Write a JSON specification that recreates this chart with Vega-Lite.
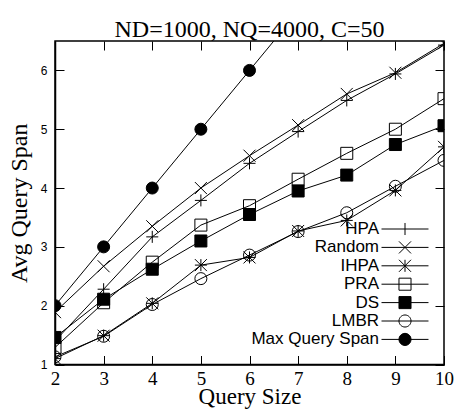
{
  "$schema": "https://vega.github.io/schema/vega-lite/v6.json",
  "width": 389,
  "height": 323.5,
  "autosize": {"type": "none"},
  "padding": {"left": 55, "top": 41, "right": 17, "bottom": 46.5},
  "background": "white",
  "title": {"text": "ND=1000, NQ=4000, C=50", "font": "Liberation Serif", "fontSize": 24, "fontWeight": "normal", "color": "black", "baseline": "alphabetic", "offset": -14, "dy": 6},
  "data": {"values": [
    {"method": "HPA", "size": 2, "span": 1.40},
    {"method": "HPA", "size": 3, "span": 2.28},
    {"method": "HPA", "size": 4, "span": 3.17},
    {"method": "HPA", "size": 5, "span": 3.79},
    {"method": "HPA", "size": 6, "span": 4.42},
    {"method": "HPA", "size": 7, "span": 4.96},
    {"method": "HPA", "size": 8, "span": 5.49},
    {"method": "HPA", "size": 9, "span": 5.94},
    {"method": "HPA", "size": 10, "span": 6.43},
    {"method": "Random", "size": 2, "span": 1.89},
    {"method": "Random", "size": 3, "span": 2.67},
    {"method": "Random", "size": 4, "span": 3.35},
    {"method": "Random", "size": 5, "span": 4.0},
    {"method": "Random", "size": 6, "span": 4.55},
    {"method": "Random", "size": 7, "span": 5.07},
    {"method": "Random", "size": 8, "span": 5.60},
    {"method": "Random", "size": 9, "span": 5.96},
    {"method": "Random", "size": 10, "span": 6.46},
    {"method": "IHPA", "size": 2, "span": 1.10},
    {"method": "IHPA", "size": 3, "span": 1.49},
    {"method": "IHPA", "size": 4, "span": 2.04},
    {"method": "IHPA", "size": 5, "span": 2.69},
    {"method": "IHPA", "size": 6, "span": 2.82},
    {"method": "IHPA", "size": 7, "span": 3.27},
    {"method": "IHPA", "size": 8, "span": 3.45},
    {"method": "IHPA", "size": 9, "span": 3.96},
    {"method": "IHPA", "size": 10, "span": 4.70},
    {"method": "PRA", "size": 2, "span": 1.29},
    {"method": "PRA", "size": 3, "span": 2.05},
    {"method": "PRA", "size": 4, "span": 2.74},
    {"method": "PRA", "size": 5, "span": 3.37},
    {"method": "PRA", "size": 6, "span": 3.70},
    {"method": "PRA", "size": 7, "span": 4.15},
    {"method": "PRA", "size": 8, "span": 4.59},
    {"method": "PRA", "size": 9, "span": 5.00},
    {"method": "PRA", "size": 10, "span": 5.52},
    {"method": "DS", "size": 2, "span": 1.46},
    {"method": "DS", "size": 3, "span": 2.11},
    {"method": "DS", "size": 4, "span": 2.62},
    {"method": "DS", "size": 5, "span": 3.10},
    {"method": "DS", "size": 6, "span": 3.55},
    {"method": "DS", "size": 7, "span": 3.95},
    {"method": "DS", "size": 8, "span": 4.22},
    {"method": "DS", "size": 9, "span": 4.74},
    {"method": "DS", "size": 10, "span": 5.06},
    {"method": "LMBR", "size": 2, "span": 1.13},
    {"method": "LMBR", "size": 3, "span": 1.48},
    {"method": "LMBR", "size": 4, "span": 2.02},
    {"method": "LMBR", "size": 5, "span": 2.46},
    {"method": "LMBR", "size": 6, "span": 2.86},
    {"method": "LMBR", "size": 7, "span": 3.26},
    {"method": "LMBR", "size": 8, "span": 3.58},
    {"method": "LMBR", "size": 9, "span": 4.03},
    {"method": "LMBR", "size": 10, "span": 4.47},
    {"method": "Max Query Span", "size": 2, "span": 2},
    {"method": "Max Query Span", "size": 3, "span": 3},
    {"method": "Max Query Span", "size": 4, "span": 4},
    {"method": "Max Query Span", "size": 5, "span": 5},
    {"method": "Max Query Span", "size": 6, "span": 6},
    {"method": "Max Query Span", "size": 7, "span": 7}
  ]},
  "layer": [
    {
      "mark": {"type": "line", "color": "black", "strokeWidth": 1, "clip": true},
      "encoding": {
        "x": {"field": "size", "type": "quantitative", "scale": {"domain": [2, 10], "nice": false, "zero": false},
          "axis": {"orient": "bottom", "values": [2, 3, 4, 5, 6, 7, 8, 9, 10], "tickSize": -9, "tickColor": "black", "tickWidth": 1, "domainColor": "black", "domainWidth": 1.5, "grid": false,
            "labelFont": "Liberation Serif", "labelFontSize": 19, "labelColor": "black", "labelPadding": 14, "labelFlush": false, "labelOverlap": false,
            "title": "Query Size", "titleFont": "Liberation Serif", "titleFontSize": 23, "titleFontWeight": "normal", "titleColor": "black", "titleBaseline": "alphabetic", "titleY": 38.5, "titleX": 194.5}},
        "y": {"field": "span", "type": "quantitative", "scale": {"domain": [1, 6.5], "nice": false, "zero": false},
          "axis": {"orient": "left", "values": [1, 2, 3, 4, 5, 6], "tickSize": -9, "tickColor": "black", "tickWidth": 1, "domainColor": "black", "domainWidth": 1.5, "grid": false,
            "labelFont": "Liberation Sans", "labelFontSize": 12, "labelColor": "black", "labelPadding": 17, "labelFlush": false, "labelOverlap": false,
            "title": "Avg Query Span", "titleFont": "Liberation Serif", "titleFontSize": 24, "titleFontWeight": "normal", "titleColor": "black", "titleBaseline": "alphabetic", "titleX": -29, "titleY": 161.75, "titleAngle": -90}},
        "detail": {"field": "method", "type": "nominal"}
      }
    },
    {
      "mark": {"type": "point", "stroke": "black", "strokeWidth": 1, "size": 144, "opacity": 1, "clip": true},
      "encoding": {
        "x": {"field": "size", "type": "quantitative",
          "axis": {"orient": "top", "values": [2, 3, 4, 5, 6, 7, 8, 9, 10], "tickSize": -9, "tickColor": "black", "tickWidth": 1, "domain": false, "grid": false, "labels": false, "title": null}},
        "y": {"field": "span", "type": "quantitative",
          "axis": {"orient": "right", "values": [1, 2, 3, 4, 5, 6], "tickSize": -9, "tickColor": "black", "tickWidth": 1, "domain": false, "grid": false, "labels": false, "title": null}},
        "shape": {"field": "method", "type": "nominal",
          "scale": {"domain": ["HPA", "Random", "IHPA", "PRA", "DS", "LMBR", "Max Query Span"],
            "range": ["M-1,0L1,0M0,-1L0,1", "M-1,-1L1,1M-1,1L1,-1", "M-1,0L1,0M0,-1L0,1M-1,-1L1,1M-1,1L1,-1", "square", "square", "circle", "circle"]},
          "legend": null},
        "fill": {"field": "method", "type": "nominal",
          "scale": {"domain": ["HPA", "Random", "IHPA", "PRA", "DS", "LMBR", "Max Query Span"],
            "range": ["transparent", "transparent", "transparent", "transparent", "black", "transparent", "black"]},
          "legend": null}
      }
    },
    {
      "transform": [{"filter": "false"}],
      "mark": {"type": "point", "filled": false, "color": "black", "stroke": "black", "strokeWidth": 1, "size": 324, "opacity": 1},
      "encoding": {
        "x": {"field": "size", "type": "quantitative", "axis": null},
        "y": {"field": "span", "type": "quantitative", "axis": null},
        "shape": {"field": "method", "type": "nominal",
          "scale": {"domain": ["HPA", "Random", "IHPA", "PRA", "DS", "LMBR", "Max Query Span"],
            "range": [
              "M-2.61,0L2.61,0M0,-0.67L0,0.67",
              "M-2.61,0L2.61,0M-0.67,-0.67L0.67,0.67M-0.67,0.67L0.67,-0.67",
              "M-2.61,0L2.61,0M0,-0.67L0,0.67M-0.67,-0.67L0.67,0.67M-0.67,0.67L0.67,-0.67",
              "M-2.61,0L2.61,0M-0.67,-0.67L0.67,-0.67L0.67,0.67L-0.67,0.67Z",
              "M-2.61,0L2.61,0M-0.67,-0.67L0.67,-0.67L0.67,0.67L-0.67,0.67Z",
              "M-2.61,0L2.61,0M0.67,0A0.67,0.67,0,1,1,-0.67,0A0.67,0.67,0,1,1,0.67,0Z",
              "M-2.61,0L2.61,0M0.67,0A0.67,0.67,0,1,1,-0.67,0A0.67,0.67,0,1,1,0.67,0Z"
            ]},
          "legend": {"orient": "none", "legendX": 340.5, "legendY": 178.5, "title": null, "padding": 0,
            "labelFont": "Liberation Sans", "labelFontSize": 17, "labelColor": "black", "labelAlign": "right", "labelBaseline": "middle", "labelOffset": -35.5, "labelLimit": 300,
            "symbolSize": 324, "symbolStrokeWidth": 1, "symbolStrokeColor": "black", "symbolFillColor": "transparent", "symbolOffset": 0, "rowPadding": 0.4}}
      }
    },
    {
      "transform": [{"filter": "false"}],
      "mark": {"type": "point", "filled": true, "color": "black", "strokeWidth": 1, "size": 324, "opacity": 1},
      "encoding": {
        "x": {"field": "size", "type": "quantitative", "axis": null},
        "y": {"field": "span", "type": "quantitative", "axis": null},
        "shape": {"field": "method", "type": "nominal",
          "scale": {"domain": ["HPA", "Random", "IHPA", "PRA", "DS", "LMBR", "Max Query Span"],
            "range": [
              "M0,0",
              "M0,0",
              "M0,0",
              "M0,0",
              "M-0.67,-0.67L0.67,-0.67L0.67,0.67L-0.67,0.67Z",
              "M0,0",
              "M0.67,0A0.67,0.67,0,1,1,-0.67,0A0.67,0.67,0,1,1,0.67,0Z"
            ]},
          "legend": {"orient": "none", "legendX": 340.5, "legendY": 178.5, "title": null, "padding": 0,
            "labelFont": "Liberation Sans", "labelFontSize": 17, "labelColor": "black", "labelExpr": "''", "labelAlign": "right", "labelBaseline": "middle", "labelOffset": -35.5, "labelLimit": 300,
            "symbolSize": 324, "symbolStrokeWidth": 1, "symbolStrokeColor": "transparent", "symbolFillColor": "black", "symbolOffset": 0, "rowPadding": 0.4}}
      }
    }
  ],
  "resolve": {"axis": {"x": "independent", "y": "independent"}, "scale": {"shape": "independent", "fill": "independent"}, "legend": {"shape": "independent"}},
  "config": {
    "view": {"stroke": "black", "strokeWidth": 1.5}
  }
}
